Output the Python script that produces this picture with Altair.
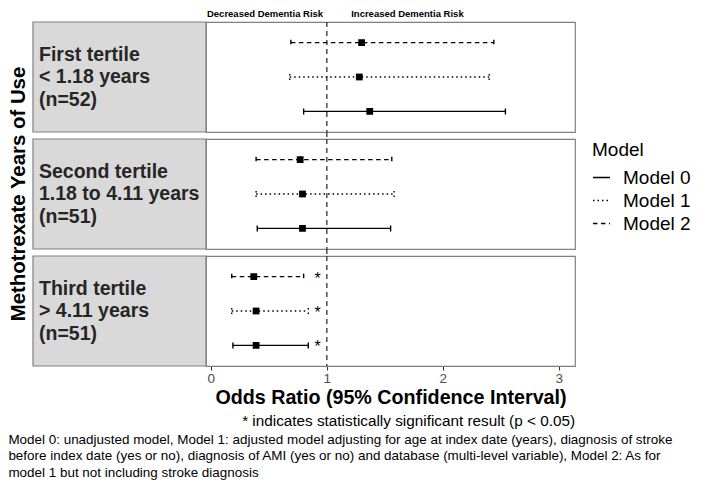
import altair as alt
import pandas as pd

# ---------------- data ----------------
tertile_keys = ["T1", "T2", "T3"]
tertile_labels = [
    "First tertile\n< 1.18 years\n(n=52)",
    "Second tertile\n1.18 to 4.11 years\n(n=51)",
    "Third tertile\n> 4.11 years\n(n=51)",
]
models = ["Model 2", "Model 1", "Model 0"]
legend_order = ["Model 0", "Model 1", "Model 2"]
odds_ratio = [[1.30, 1.28, 1.37], [0.77, 0.79, 0.79], [0.37, 0.39, 0.39]]
ci_lower = [[0.69, 0.68, 0.80], [0.39, 0.39, 0.40], [0.18, 0.18, 0.19]]
ci_upper = [[2.44, 2.40, 2.54], [1.56, 1.58, 1.55], [0.80, 0.84, 0.84]]
significant = [[False, False, False], [False, False, False], [True, True, True]]
x_ticks = [0, 1, 2, 3]
footer_lines = [
    "Model 0: unadjusted model, Model 1: adjusted model adjusting for age at index date (years), diagnosis of stroke",
    "before index date (yes or no), diagnosis of AMI (yes or no) and database (multi-level variable), Model 2: As for",
    "model 1 but not including stroke diagnosis",
]

rows = []
for ti, tk in enumerate(tertile_keys):
    for mi, m in enumerate(models):
        rows.append(dict(tertile=tk, label=tertile_labels[ti], model=m,
                         odds=odds_ratio[ti][mi], lower=ci_lower[ti][mi],
                         upper=ci_upper[ti][mi], sig=significant[ti][mi]))
df = pd.DataFrame(rows)

# ---------------- layout ----------------
W, H, GAP = 369, 110, 7
FONT = "Liberation Sans"

xscale = alt.Scale(domain=[-0.042, 3.14], nice=False, zero=False)
xaxis = alt.Axis(values=x_ticks, format="d", grid=False, domain=False, tickColor="#333333",
                 tickSize=4, tickWidth=1.1, labelFontSize=13.5, labelColor="#4d4d4d",
                 labelPadding=1, title="Odds Ratio (95% Confidence Interval)",
                 titleFontSize=19.7, titleFontWeight="bold", titleColor="black",
                 titlePadding=3)
XT = "Odds Ratio (95% Confidence Interval)"
yenc = alt.Y("model:N", sort=models, scale=alt.Scale(type="point", padding=0.6), axis=None)
dash = alt.StrokeDash(
    "model:N",
    scale=alt.Scale(domain=legend_order, range=[[1, 0], [1.5, 3], [4.5, 3.5]]),
    legend=alt.Legend(title="Model", orient="none", legendX=386, legendY=119,
                      symbolType="stroke", symbolSize=290, symbolStrokeWidth=1.5,
                      symbolStrokeColor="black", labelFontSize=19, titleFontSize=19,
                      titleFontWeight="normal", labelOffset=12, rowPadding=3,
                      titlePadding=8, padding=0, labelColor="black", titleColor="black"),
)

base = alt.Chart()
first_model = "datum.model == 'Model 0'"

strip_rect = base.mark_rect(fill="#d9d9d9", stroke="#808080", strokeWidth=1.2).encode(
    x=alt.value(-173), x2=alt.value(0), y=alt.value(0), y2=alt.value(H)
).transform_filter(first_model)

strip_text = base.mark_text(align="left", baseline="middle", lineBreak="\n",
                            fontSize=19.5, fontWeight="bold", lineHeight=22.5,
                            color="#262626").encode(
    x=alt.value(-167), y=alt.value(H / 2 - 22.5), text="label:N"
).transform_filter(first_model)

y_title = base.mark_text(angle=270, align="center", baseline="middle", fontSize=20.4,
                         fontWeight="bold", color="black").encode(
    x=alt.value(-187), y=alt.value(H / 2), text=alt.value("Methotrexate Years of Use")
).transform_filter(first_model + " && datum.tertile == 'T2'")

vline = base.mark_rule(color="#333333", strokeWidth=1.3, strokeDash=[5, 4]).encode(
    x=alt.datum(1, scale=xscale), y=alt.value(0), y2=alt.value(H)
).transform_filter(first_model)

vgap = base.mark_rule(color="#333333", strokeWidth=1.3, strokeDash=[5, 4]).encode(
    x=alt.datum(1), y=alt.value(-GAP), y2=alt.value(0)
).transform_filter(first_model + " && datum.tertile != 'T1'")

top_dec = base.mark_text(fontSize=9.5, fontWeight="bold", baseline="middle", color="black").encode(
    x=alt.datum(0.467), y=alt.value(-8), text=alt.value("Decreased Dementia Risk")
).transform_filter(first_model + " && datum.tertile == 'T1'")
top_inc = base.mark_text(fontSize=9.5, fontWeight="bold", baseline="middle", color="black").encode(
    x=alt.datum(1.695), y=alt.value(-8), text=alt.value("Increased Dementia Risk")
).transform_filter(first_model + " && datum.tertile == 'T1'")

interval = base.mark_rule(color="black", strokeWidth=1.4).encode(
    x=alt.X("lower:Q", scale=xscale, axis=xaxis, title=XT), x2="upper:Q",
    y=yenc, strokeDash=dash)
cap_lo = base.mark_rule(color="black", strokeWidth=1.4, yOffset=-3, y2Offset=3).encode(
    x=alt.X("lower:Q", title=XT), y=yenc, y2="model", strokeDash=dash)
cap_hi = base.mark_rule(color="black", strokeWidth=1.4, yOffset=-3, y2Offset=3).encode(
    x=alt.X("upper:Q", title=XT), y=yenc, y2="model", strokeDash=dash)
points = base.mark_point(shape="square", filled=True, size=46, color="black", opacity=1).encode(
    x=alt.X("odds:Q", title=XT), y=yenc)
stars = base.mark_text(text="*", fontSize=16, dy=2, color="black").encode(
    x=alt.datum(0.92), y=yenc).transform_filter("datum.sig")

note = base.mark_text(align="right", baseline="alphabetic", fontSize=15.3, color="black").encode(
    x=alt.value(W), y=alt.value(H + 60),
    text=alt.value("* indicates statistically significant result (p < 0.05)")
).transform_filter(first_model + " && datum.tertile == 'T3'")

layered = alt.layer(strip_rect, strip_text, y_title, vline, vgap, top_dec, top_inc,
                    interval, cap_lo, cap_hi, points, stars, note).properties(width=W, height=H)

chart = layered.facet(
    row=alt.Row("tertile:N", sort=tertile_keys, title=None, header=alt.Header(labels=False)),
    data=df, spacing=GAP, bounds="flush",
).properties(
    padding={"left": 0, "top": 0, "right": 0, "bottom": 0},
    title=alt.TitleParams(text=footer_lines, orient="bottom", anchor="start", frame="bounds",
                          fontSize=13.45, fontWeight="normal", lineHeight=16.5, offset=3,
                          color="black", font=FONT),
).configure(font=FONT).configure_view(stroke="#808080", strokeWidth=1.2)

chart.save("out.html", embed_options={"renderer": "svg", "actions": False})
